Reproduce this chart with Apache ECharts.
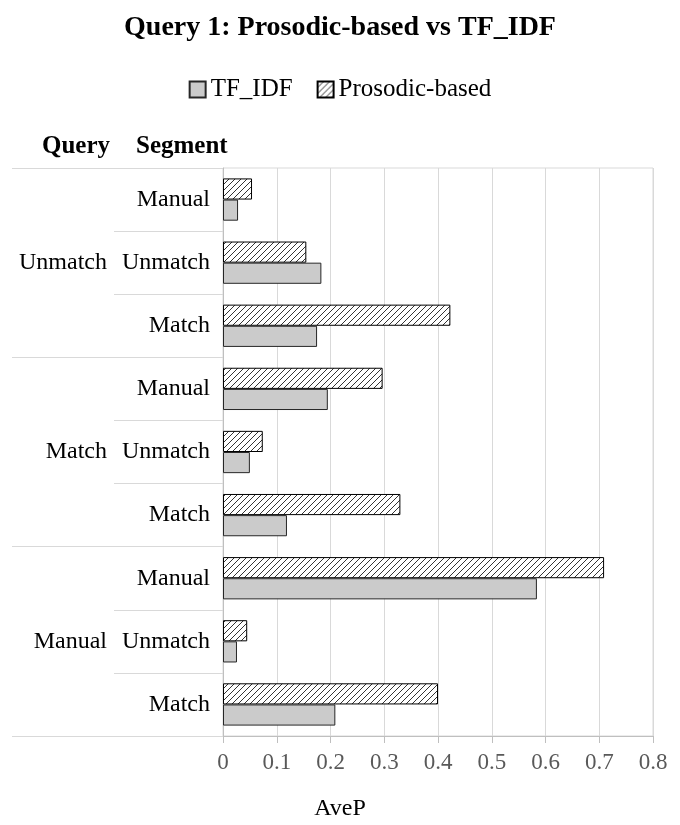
<!DOCTYPE html>
<html>
<head>
<meta charset="utf-8">
<script src="https://cdn.jsdelivr.net/npm/echarts@6/dist/echarts.min.js"></script>
<style>html,body{margin:0;padding:0;background:#fff}#c{width:680px;height:825px}</style>
</head>
<body>
<div id="c"></div>
<script>
// ---- data ----
const queries = ['Unmatch', 'Match', 'Manual'];
const segments = ['Manual', 'Unmatch', 'Match'];
const seriesNames = ['TF_IDF', 'Prosodic-based'];
const tfidf    = [0.028, 0.183, 0.175, 0.195, 0.050, 0.119, 0.584, 0.026, 0.209];
const prosodic = [0.054, 0.155, 0.423, 0.297, 0.074, 0.330, 0.709, 0.045, 0.400];
const xTicks = [0, 0.1, 0.2, 0.3, 0.4, 0.5, 0.6, 0.7, 0.8];

const categories = [];
queries.forEach(q => segments.forEach(s => categories.push(q + '|' + s)));

const FONT = "'Liberation Serif', 'Times New Roman', serif";

function hatch() {
  const c = document.createElement('canvas');
  const n = 6;
  c.width = n; c.height = n;
  const g = c.getContext('2d');
  g.fillStyle = '#fff'; g.fillRect(0, 0, n, n);
  g.strokeStyle = '#000'; g.lineWidth = 0.8;
  g.beginPath();
  g.moveTo(0, n); g.lineTo(n, 0);
  g.moveTo(-1, 1); g.lineTo(1, -1);
  g.moveTo(n - 1, n + 1); g.lineTo(n + 1, n - 1);
  g.stroke();
  return c;
}

const chart = echarts.init(document.getElementById('c'), null, {renderer: 'canvas'});
chart.setOption({
  animation: false,
  backgroundColor: '#fff',
  title: [
    {text: 'Query 1: Prosodic-based vs TF_IDF', left: 'center', top: 9,
     textStyle: {fontFamily: FONT, fontSize: 28, fontWeight: 'bold', color: '#000'}},
    {text: 'Query', left: 37, top: 129,
     textStyle: {fontFamily: FONT, fontSize: 25, fontWeight: 'bold', color: '#000'}},
    {text: 'Segment', left: 131, top: 129,
     textStyle: {fontFamily: FONT, fontSize: 25, fontWeight: 'bold', color: '#000'}},
    {text: 'AveP', left: 'center', top: 792,
     textStyle: {fontFamily: FONT, fontSize: 24, fontWeight: 'normal', color: '#000'}}
  ],
  legend: {
    data: seriesNames.map(n => ({name: n, icon: 'rect'})),
    top: 72, left: 'center',
    itemWidth: 16, itemHeight: 16, itemGap: 24,
    textStyle: {fontFamily: FONT, fontSize: 25, color: '#000'}
  },
  grid: {left: 223, right: 27, top: 168, bottom: 89, containLabel: false,
         show: true, borderColor: '#d9d9d9', borderWidth: 1},
  xAxis: {
    type: 'value', min: 0, max: 0.8, interval: 0.1,
    axisLine: {show: true, lineStyle: {color: '#bfbfbf'}},
    axisTick: {show: true, length: 7, lineStyle: {color: '#bfbfbf'}},
    splitLine: {show: true, lineStyle: {color: '#d9d9d9'}},
    axisLabel: {fontFamily: FONT, fontSize: 23, color: '#595959', margin: 15,
                formatter: v => xTicks.includes(+v.toFixed(1)) ? String(+v.toFixed(1)) : ''}
  },
  yAxis: [
    {
      type: 'category', data: categories, inverse: true, position: 'left',
      axisLine: {show: true, lineStyle: {color: '#bfbfbf'}},
      axisTick: {show: true, length: 109, interval: 0, lineStyle: {color: '#d9d9d9'}},
      axisLabel: {fontFamily: FONT, fontSize: 24, color: '#000', margin: 13, interval: 0,
                  formatter: v => v.split('|')[1]},
      splitLine: {show: false}
    },
    {
      type: 'category', data: queries, inverse: true, position: 'left', offset: 0,
      axisLine: {show: false},
      axisTick: {show: true, length: 211, interval: 0, lineStyle: {color: '#d9d9d9'}},
      axisLabel: {fontFamily: FONT, fontSize: 24, color: '#000', margin: 116, interval: 0},
      splitLine: {show: false}
    }
  ],
  series: [
    {name: 'Prosodic-based', type: 'bar', data: prosodic, yAxisIndex: 0,
     barGap: '0%', barCategoryGap: '33%',
     itemStyle: {color: {image: hatch(), repeat: 'repeat'}, borderColor: '#000', borderWidth: 1}},
    {name: 'TF_IDF', type: 'bar', data: tfidf, yAxisIndex: 0,
     barGap: '0%', barCategoryGap: '33%',
     itemStyle: {color: '#cbcbcb', borderColor: '#262626', borderWidth: 1}}
  ]
});
</script>
</body>
</html>
